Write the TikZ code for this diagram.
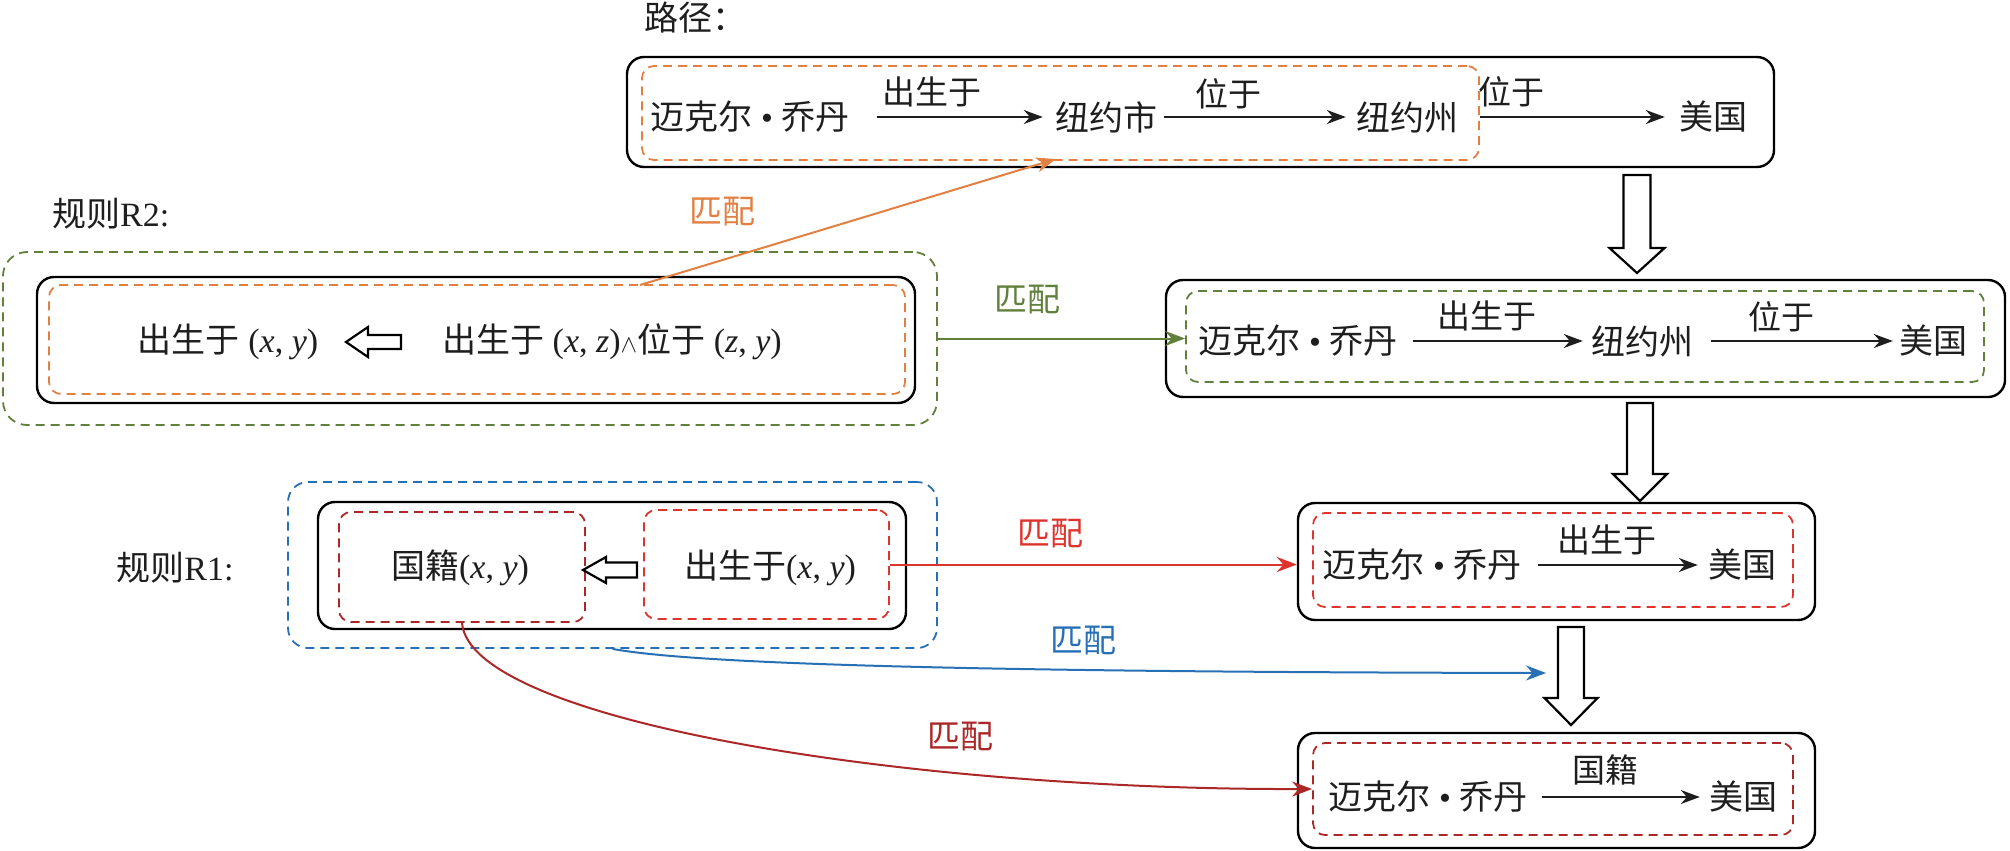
\documentclass[tikz,border=0pt]{standalone}
\usepackage{fontspec}
\setmainfont{Noto Sans CJK SC}
\newfontfamily\latfont{Liberation Serif}
\usetikzlibrary{arrows.meta,calc}
\definecolor{corange}{RGB}{226,128,66}
\definecolor{cgreen}{RGB}{96,128,60}
\definecolor{cred}{RGB}{222,52,46}
\definecolor{cdred}{RGB}{172,40,40}
\definecolor{cblue}{RGB}{40,112,182}
\definecolor{ink}{RGB}{30,30,30}
\newcommand\myvar[1]{{\latfont\itshape #1}}
\newcommand\mylat[1]{{\latfont #1}}
\newcommand\hdown[6]{\draw[hollow] (#1-#5,#2) -- (#1+#5,#2) -- (#1+#5,#3) -- (#1+#6,#3) -- (#1,#4) -- (#1-#6,#3) -- (#1-#5,#3) -- cycle;}
\newcommand\hleft[6]{\draw[hollow] (#3,#4-#5) -- (#2,#4-#5) -- (#2,#4-#6) -- (#1,#4) -- (#2,#4+#6) -- (#2,#4+#5) -- (#3,#4+#5) -- cycle;}
\begin{document}
\begin{tikzpicture}[x=1pt,y=-1pt,
  box/.style={draw=black, line width=2.4pt, rounded corners=17pt, inner sep=0pt},
  dbox/.style={line width=1.8pt, dash pattern=on 9pt off 6pt, rounded corners=12pt, inner sep=0pt},
  txt/.style={font=\fontsize{34}{40}\selectfont, inner sep=0pt, text=ink},
  lbl/.style={font=\fontsize{33}{40}\selectfont, inner sep=0pt, text=ink},
  rel/.style={-{Stealth[length=19pt,width=14pt]}, line width=1.8pt, draw=ink},
  conn/.style={-{Stealth[length=20pt,width=15pt]}, line width=2pt},
  hollow/.style={draw=black, line width=2.2pt, fill=white, line join=miter}]
\useasboundingbox (0,0) rectangle (2010,851);

% ---------- path box ----------
\node[txt] (title) at (695,18) {路径：};
\node[box, minimum width=1147pt, minimum height=110pt] (p0) at (1200.5,112) {};
\node[dbox, draw=corange, minimum width=837pt, minimum height=94pt] (p0o) at (1060.5,113) {};
\node[txt] (a0) at (750,117) {迈克尔\mylat{ • }乔丹};
\node[txt] (a1) at (1106,117) {纽约市};
\node[txt] (a2) at (1407,117) {纽约州};
\node[txt] (a3) at (1713,117) {美国};
\draw[rel, shorten <=27pt, shorten >=12pt] (a0) -- node[lbl, pos=0.4, above=9pt] {出生于} (a1);
\draw[rel, shorten <=7pt, shorten >=10pt] (a1) -- node[lbl, pos=0.36, above=7pt] {位于} (a2);
\draw[rel, shorten <=22pt, shorten >=14pt] (a2) -- node[lbl, pos=0.24, above=9pt] {位于} (a3);

% ---------- second box ----------
\node[box, minimum width=839pt, minimum height=117pt] (p1) at (1585.5,338.5) {};
\node[dbox, draw=cgreen, minimum width=798pt, minimum height=91pt] (p1g) at (1585,336.5) {};
\node[txt] (b0) at (1298,341) {迈克尔\mylat{ • }乔丹};
\node[txt] (b1) at (1642,341) {纽约州};
\node[txt] (b2) at (1933,341) {美国};
\draw[rel, shorten <=15pt, shorten >=8pt] (b0) -- node[lbl, pos=0.46, above=9pt] {出生于} (b1);
\draw[rel, shorten <=18pt, shorten >=6pt] (b1) -- node[lbl, pos=0.43, above=8pt] {位于} (b2);

% ---------- third box ----------
\node[box, minimum width=517pt, minimum height=117pt] (p2) at (1556.5,561.5) {};
\node[dbox, draw=cred, minimum width=480pt, minimum height=94pt] (p2r) at (1553,560) {};
\node[txt] (c0) at (1422,565) {迈克尔\mylat{ • }乔丹};
\node[txt] (c1) at (1742,565) {美国};
\draw[rel, shorten <=16pt, shorten >=10pt] (c0) -- node[lbl, pos=0.46, above=9pt] {出生于} (c1);

% ---------- bottom box ----------
\node[box, minimum width=517pt, minimum height=115pt] (p3) at (1556.5,790.5) {};
\node[dbox, draw=cdred, minimum width=480pt, minimum height=92pt] (p3d) at (1553,789) {};
\node[txt] (d0) at (1428,797) {迈克尔\mylat{ • }乔丹};
\node[txt] (d1) at (1743,797) {美国};
\draw[rel, shorten <=14pt, shorten >=9pt] (d0) -- node[lbl, pos=0.43, above=11pt] {国籍} (d1);

% ---------- hollow arrows ----------
\hdown{1637}{175}{248}{273}{13.5}{27.5}
\hdown{1640}{403}{474}{501}{13}{27}
\hdown{1571}{627}{698}{725}{13}{26.5}

% ---------- rule R2 ----------
\node[txt, anchor=west] (r2t) at (52,214) {规则\mylat{R2:}};
\node[dbox, draw=cgreen, minimum width=934pt, minimum height=173pt, rounded corners=24pt] (r2g) at (470,338.5) {};
\node[box, minimum width=878pt, minimum height=126pt] (r2) at (476,340) {};
\node[dbox, draw=corange, minimum width=856pt, minimum height=109pt] (r2o) at (477,339.5) {};
\node[txt] (r2a) at (228,342) {出生于\mylat{ (\myvar{x}, \myvar{y})}};
\hleft{346}{368}{401}{342}{7}{15}
\node[txt] (r2b) at (612,342) {出生于\mylat{ (\myvar{x}, \myvar{z})}$\wedge$位于\mylat{ (\myvar{z}, \myvar{y})}};

% ---------- rule R1 ----------
\node[txt] (r1t) at (175,568) {规则\mylat{R1:}};
\node[dbox, draw=cblue, minimum width=649pt, minimum height=166pt, rounded corners=20pt] (r1b) at (612.5,565) {};
\node[box, minimum width=588pt, minimum height=127pt] (r1) at (612,565.5) {};
\node[dbox, draw=cdred, minimum width=246pt, minimum height=110pt] (r1l) at (462,567) {};
\node[dbox, draw=cred, minimum width=245pt, minimum height=109pt] (r1r) at (766.5,564.5) {};
\node[txt] (r1a) at (460,568) {国籍\mylat{(\myvar{x}, \myvar{y})}};
\node[txt] (r1c) at (770,568) {出生于\mylat{(\myvar{x}, \myvar{y})}};
\hleft{583}{606}{637}{570}{7.5}{13}

% ---------- matching connectors ----------
\coordinate (oS) at (640,285);
\coordinate (oE) at (1056,159);
\draw[conn, draw=corange] (oS) -- (oE);
\node[lbl, text=corange] at (722,212) {匹配};

\draw[conn, draw=cgreen] (r2g.east) -- (r2g.east -| p1g.west);
\node[lbl, text=cgreen] at (1027,300) {匹配};

\draw[conn, draw=cred] (r1r.east) -- (r1r.east -| p2.west);
\node[lbl, text=cred] at (1050,534) {匹配};

\coordinate (bE) at (1546,673);
\draw[conn, draw=cblue] (r1b.south) .. controls (700,665) and (1000,672) .. (bE);
\node[lbl, text=cblue] at (1083,641) {匹配};

\draw[conn, draw=cdred] (r1l.south) .. controls (470,720) and (900,790) .. (p3d.west);
\node[lbl, text=cdred] at (960,737) {匹配};
\end{tikzpicture}
\end{document}
